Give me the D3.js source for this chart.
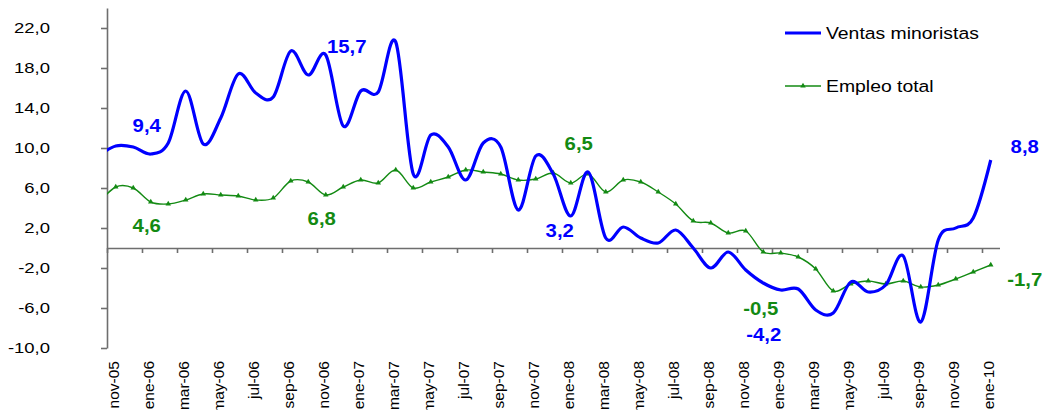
<!DOCTYPE html>
<html>
<head>
<meta charset="utf-8">
<script src="https://cdn.jsdelivr.net/npm/d3@7"></script>
<style>
  body { margin: 0; background: #fff; }
  .d3-chart text { font-family: "Liberation Sans", Arial, sans-serif; }
  .d3-chart .axis path, .d3-chart .axis line { stroke: #6e6e6e; stroke-width: 1.6; }
</style>
</head>
<body>
<div class="d3-chart" id="chart"></div>
<script>
// months, first one (oct-05) sits left of the axis and is clipped
const months = ['oct-05','nov-05','dic-05',
  'ene-06','feb-06','mar-06','abr-06','may-06','jun-06','jul-06','ago-06','sep-06','oct-06','nov-06','dic-06',
  'ene-07','feb-07','mar-07','abr-07','may-07','jun-07','jul-07','ago-07','sep-07','oct-07','nov-07','dic-07',
  'ene-08','feb-08','mar-08','abr-08','may-08','jun-08','jul-08','ago-08','sep-08','oct-08','nov-08','dic-08',
  'ene-09','feb-09','mar-09','abr-09','may-09','jun-09','jul-09','ago-09','sep-09','oct-09','nov-09','dic-09',
  'ene-10'];

const ventas = [9.2, 10.2, 10.1,
  9.4, 10.5, 15.7, 10.4, 13.0, 17.4, 15.5, 15.1, 19.7, 17.3, 19.3, 12.2,
  15.7, 15.6, 20.6, 7.4, 11.3, 10.1, 6.8, 10.5, 10.1, 3.8, 9.2, 7.4,
  3.2, 7.6, 1.0, 2.1, 1.0, 0.5, 1.8, 0.0, -2.0, -0.4, -2.2, -3.5,
  -4.2, -4.1, -6.2, -6.5, -3.4, -4.4, -3.7, -0.8, -7.4, 0.8, 2.0, 3.0,
  8.8];

const empleo = [4.4, 6.1, 6.0,
  4.6, 4.4, 4.8, 5.4, 5.3, 5.2, 4.8, 5.0, 6.7, 6.6, 5.3, 6.1,
  6.8, 6.5, 7.8, 6.0, 6.6, 7.1, 7.8, 7.6, 7.4, 6.8, 6.9, 7.5,
  6.5, 7.4, 5.6, 6.8, 6.6, 5.6, 4.4, 2.7, 2.5, 1.5, 1.7, -0.4,
  -0.5, -0.9, -2.1, -4.3, -3.6, -3.3, -3.6, -3.3, -3.9, -3.7, -3.1, -2.4,
  -1.7];

const yTicks = [-10, -6, -2, 2, 6, 10, 14, 18, 22];
const seriesNames = ['Ventas minoristas', 'Empleo total'];

// annotated points (january values) and where their text sits relative to the point
const notes = [
  { s: 0, m: 'ene-06', dx: -4, dy: -22 },
  { s: 0, m: 'ene-07', dx: -14, dy: -38 },
  { s: 0, m: 'ene-08', dx: -11, dy: 21 },
  { s: 0, m: 'ene-09', dx: -17, dy: 51 },
  { s: 0, m: 'ene-10', dx: 34, dy: -7 },
  { s: 1, m: 'ene-06', dx: -4, dy: 30 },
  { s: 1, m: 'ene-07', dx: -39, dy: 45 },
  { s: 1, m: 'ene-08', dx: 8, dy: -33 },
  { s: 1, m: 'ene-09', dx: -20, dy: 62 },
  { s: 1, m: 'ene-10', dx: 34, dy: 21 }
];

const colors = ['#0000ff', '#138a13'];
const W = 1042, H = 410;
const plotLeft = 107, plotRight = 999.5, plotTop = 8, plotBottom = 348;

const fmt = d3.formatLocale({ decimal: ',', thousands: '.', grouping: [3], currency: ['', '€'], minus: '-' }).format('.1f');

let svg = d3.select('#chart')
  .append('svg')
    .attr('width', W)
    .attr('height', H);

// x: month k occupies [k, k+1] with k = 1 for nov-05
let x = d3.scaleLinear().domain([1, 52]).range([plotLeft, plotRight]);
let y = d3.scaleLinear().domain([-10, 24]).range([plotBottom, plotTop]);
let px = (i) => x(i + 0.5);

svg.append('clipPath').attr('id', 'plot')
  .append('rect')
    .attr('x', plotLeft).attr('y', plotTop)
    .attr('width', plotRight - plotLeft).attr('height', plotBottom - plotTop);

// y axis
let yAxis = svg.append('g')
    .attr('class', 'axis')
    .attr('transform', 'translate(' + plotLeft + ',0)')
    .call(d3.axisLeft(y).tickValues(yTicks).tickSize(6).tickSizeOuter(0).tickFormat(''));
yAxis.selectAll('.tick text').remove();

let ySx = 1.32;
svg.append('g')
  .selectAll('text')
  .data(yTicks)
  .enter().append('text')
    .attr('transform', d => 'translate(50,' + y(d) + ') scale(' + ySx + ',1)')
    .attr('dy', '0.36em')
    .attr('text-anchor', 'end')
    .attr('font-size', 14)
    .attr('fill', '#000')
    .text(d => fmt(d));

// x axis on the zero line, a tick every 2 months
let tickIdx = d3.range(1, 52, 2);
svg.append('g')
    .attr('class', 'axis')
    .attr('transform', 'translate(0,' + y(0) + ')')
    .call(d3.axisBottom(x).tickValues(tickIdx).tickSize(5).tickSizeOuter(0).tickFormat(''));

svg.append('g')
  .selectAll('text')
  .data(tickIdx)
  .enter().append('text')
    .attr('transform', d => 'translate(' + (px(d) + 3.5) + ',361) rotate(-90)')
    .attr('text-anchor', 'end')
    .attr('font-size', 15.5)
    .attr('fill', '#000')
    .text(d => months[d]);

// series
let lineGen = d3.line()
  .x((d, i) => px(i))
  .y(d => y(d))
  .curve(d3.curveCardinal.tension(0));

let plot = svg.append('g').attr('clip-path', 'url(#plot)');

plot.append('path')
    .datum(empleo)
    .attr('fill', 'none')
    .attr('stroke', colors[1])
    .attr('stroke-width', 1.4)
    .attr('d', lineGen);

let tri = d3.symbol().type(d3.symbolTriangle).size(13);
plot.append('g')
  .selectAll('path')
  .data(empleo)
  .enter().append('path')
    .attr('transform', (d, i) => 'translate(' + px(i) + ',' + y(d) + ')')
    .attr('fill', colors[1])
    .attr('d', tri);

plot.append('path')
    .datum(ventas)
    .attr('fill', 'none')
    .attr('stroke', colors[0])
    .attr('stroke-width', 3.2)
    .attr('stroke-linejoin', 'round')
    .attr('d', lineGen);

// value notes
let series = [ventas, empleo];
svg.append('g')
  .selectAll('text')
  .data(notes)
  .enter().append('text')
    .attr('transform', d => {
      let i = months.indexOf(d.m);
      return 'translate(' + (px(i) + d.dx) + ',' + (y(series[d.s][i]) + d.dy) + ') scale(1.1,1)';
    })
    .attr('text-anchor', 'middle')
    .attr('font-size', 18.5)
    .attr('font-weight', 'bold')
    .attr('fill', d => colors[d.s])
    .text(d => fmt(series[d.s][months.indexOf(d.m)]));

// legend
let legend = svg.append('g')
  .selectAll('g')
  .data(seriesNames)
  .enter().append('g')
    .attr('transform', (d, i) => 'translate(785,' + (33 + i * 53) + ')');

legend.append('line')
    .attr('x1', 0).attr('x2', 36)
    .attr('stroke', (d, i) => colors[i])
    .attr('stroke-width', (d, i) => i ? 1.6 : 3.2);

legend.filter((d, i) => i === 1).append('path')
    .attr('transform', 'translate(18,0)')
    .attr('fill', colors[1])
    .attr('d', tri);

legend.append('text')
    .attr('transform', 'translate(41,0) scale(1.14,1)')
    .attr('dy', '0.36em')
    .attr('font-size', 17)
    .attr('fill', '#000')
    .text(d => d);
</script>
</body>
</html>
